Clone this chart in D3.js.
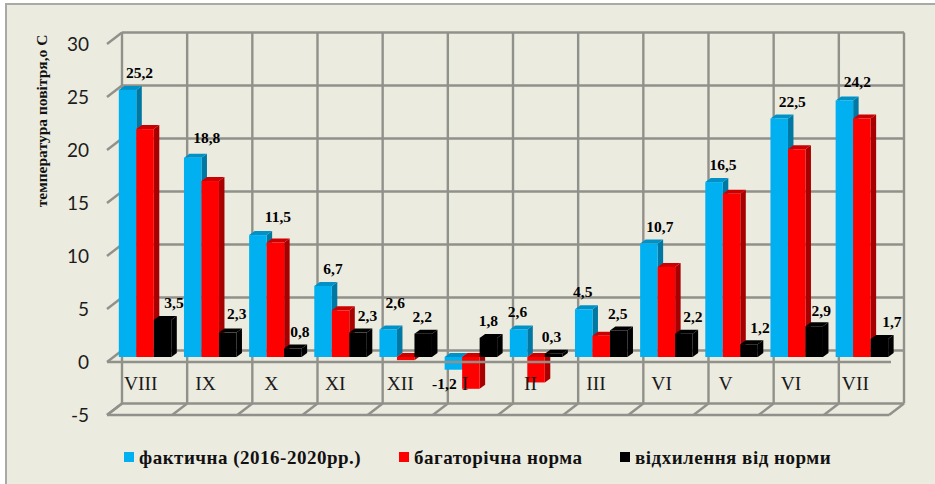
<!DOCTYPE html>
<html>
<head>
<meta charset="utf-8">
<script src="https://cdn.jsdelivr.net/npm/d3@7"></script>
<style>
  html, body { margin: 0; padding: 0; background: #fff; }
  svg { display: block; }
</style>
</head>
<body>
<div id="chart"></div>
<script>
// Дані зчитані з діаграми
const months = ["VIII", "IX", "X", "XI", "XII", "I", "II", "III", "VI", "V", "VI", "VII"];
const actual = [25.2, 18.8, 11.5, 6.7, 2.6, -1.2, 2.6, 4.5, 10.7, 16.5, 22.5, 24.2];
const norm = [21.5, 16.6, 10.8, 4.4, -0.3, -3.0, -2.4, 2.0, 8.5, 15.4, 19.6, 22.5];
const deviation = [3.5, 2.3, 0.8, 2.3, 2.2, 1.8, 0.3, 2.5, 2.2, 1.2, 2.9, 1.7];
const yTicks = [-5, 0, 5, 10, 15, 20, 25, 30];
const seriesNames = ["фактична (2016-2020рр.)", "багаторічна норма", "відхилення від норми"];
const yTitle = "температура повітря,o С";

// Зсуви підписів відносно стовпчика (у вихідному малюнку вони розставлені вручну)
const actualNudge = [[12, -12], [14, -15], [20, -13], [10, -12], [7, -21], [-9, 32], [-1, -12], [-1, -12], [11, -12], [9, -12], [13, -11.5], [13, -13.5]];
const devNudge = [[11.5, -12], [9, -13.5], [7, -11.5], [9.5, -11.5], [-1, -11.5], [0, -12], [-2, -12], [-1, -11.5], [9, -11.5], [11, -11], [7, -10], [12.5, -12]];
const monthNudge = [-2, 4, 8, 3.5, 0, 10, 7, 4, 4, 6, 3, -1];

const width = 935, height = 484;
const depthX = 15, depthY = -11.5; // глибина підлоги
const barDepthX = 5.5, barDepthY = -4;

const svg = d3.select("#chart").append("svg")
  .attr("width", width)
  .attr("height", height);

// фон
svg.append("rect").attr("x", 6).attr("y", 4).attr("width", width).attr("height", height)
  .attr("fill", "#ecebe0").attr("stroke", "#a9a9a5").attr("stroke-width", 2);

const x = d3.scaleBand().domain(d3.range(months.length)).range([107, 889]);
const y = d3.scaleLinear().domain([-5, 30]).range([415, 44]);
const barW = 17.5;
const barPad = 11.8;

const grid = svg.append("g").attr("stroke", "#91918b").attr("stroke-width", 2.4).attr("fill", "none");
const line = (x1, y1, x2, y2) => grid.append("line").attr("x1", x1).attr("y1", y1).attr("x2", x2).attr("y2", y2);

const xL = x.range()[0], xR = x.range()[1];

// задня стінка
yTicks.forEach(t => {
  line(xL + depthX, y(t) + depthY, xR + depthX, y(t) + depthY);
  line(xL, y(t), xL + depthX, y(t) + depthY);
});
d3.range(months.length + 1).forEach(i => {
  const px = xL + i * x.bandwidth();
  line(px + depthX, y(30) + depthY, px + depthX, y(-5) + depthY);
  line(px, y(-5), px + depthX, y(-5) + depthY);
});
line(xL, y(-5), xR, y(-5));

// стовпчики
const barColors = [
  { front: "#00b0f0", side: "#0078a4", top: "#0091c6" },
  { front: "#ff0000", side: "#a80000", top: "#cc0000" },
  { front: "#000000", side: "#000000", top: "#000000" }
];
const series = [actual, norm, deviation];
const barsG = svg.append("g");
const barBase = d => y(d) - 5; // передня грань стоїть всередині підлоги

function drawBar(g, x0, v, c) {
  const y0 = barBase(0), y1 = barBase(v);
  const tY = Math.min(y0, y1), bY = Math.max(y0, y1);
  const dx = barDepthX, dy = barDepthY;
  g.append("polygon").attr("points", [[x0 + barW, tY], [x0 + barW + dx, tY + dy], [x0 + barW + dx, bY + dy], [x0 + barW, bY]].join(" ")).attr("fill", c.side);
  g.append("polygon").attr("points", [[x0, tY], [x0 + dx, tY + dy], [x0 + barW + dx, tY + dy], [x0 + barW, tY]].join(" ")).attr("fill", c.top);
  g.append("rect").attr("x", x0).attr("y", tY).attr("width", barW).attr("height", bY - tY).attr("fill", c.front);
}

months.forEach((m, i) => {
  series.forEach((s, k) => {
    drawBar(barsG, x(i) + barPad + k * barW, s[i], barColors[k]);
  });
});

// лінія нуля спереду
svg.append("line").attr("x1", xL).attr("y1", y(0)).attr("x2", xR + 2).attr("y2", y(0))
  .attr("stroke", "#91918b").attr("stroke-width", 2.4);

// вісь Y
const yAxis = svg.append("g")
  .attr("transform", "translate(95,0)")
  .call(d3.axisLeft(y).tickValues(yTicks).tickSize(0).tickPadding(6).tickFormat(d => String(d)));
yAxis.select(".domain").remove();
yAxis.selectAll("text")
  .attr("font-family", "Lato, sans-serif")
  .attr("font-size", 19)
  .attr("fill", "#1c1c1c");

// підписи місяців
svg.append("g").selectAll("text").data(months).join("text")
  .attr("x", (d, i) => x(i) + depthX + 4 + monthNudge[i])
  .attr("y", 390)
  .attr("font-family", "'Liberation Serif', serif")
  .attr("font-size", 19.5)
  .attr("fill", "#1a1a1a")
  .text(d => d);

// підписи значень
const fmt = v => String(v).replace(".", ",");
const labelStyle = sel => sel
  .attr("font-family", "'Liberation Serif', serif")
  .attr("font-weight", "bold")
  .attr("font-size", 15.5)
  .attr("text-anchor", "middle")
  .attr("fill", "#000");

svg.append("g").selectAll("text").data(actual).join("text")
  .attr("x", (d, i) => x(i) + barPad + barW / 2 + actualNudge[i][0])
  .attr("y", (d, i) => barBase(Math.max(d, 0)) + actualNudge[i][1])
  .call(labelStyle)
  .text(fmt);

svg.append("g").selectAll("text").data(deviation).join("text")
  .attr("x", (d, i) => x(i) + barPad + 2.5 * barW + devNudge[i][0])
  .attr("y", (d, i) => barBase(d) + devNudge[i][1])
  .call(labelStyle)
  .text(fmt);

// назва осі
svg.append("text")
  .attr("transform", "translate(47,121) rotate(-90)")
  .attr("text-anchor", "middle")
  .attr("font-family", "'Liberation Serif', serif")
  .attr("font-weight", "bold")
  .attr("font-size", 15.5)
  .attr("fill", "#111")
  .text(yTitle);

// легенда
const legendX = [124, 399, 620];
const legendColors = barColors.map(c => c.front);
const legend = svg.append("g").selectAll("g").data(seriesNames).join("g")
  .attr("transform", (d, i) => `translate(${legendX[i]},452)`);
legend.append("rect").attr("width", 10).attr("height", 10).attr("fill", (d, i) => legendColors[i]);
legend.append("text")
  .attr("x", 15)
  .attr("y", 12)
  .attr("font-family", "'Liberation Serif', serif")
  .attr("font-weight", "bold")
  .attr("font-size", 19)
  .attr("letter-spacing", 0.5)
  .attr("fill", "#111")
  .text(d => d);
</script>
</body>
</html>
